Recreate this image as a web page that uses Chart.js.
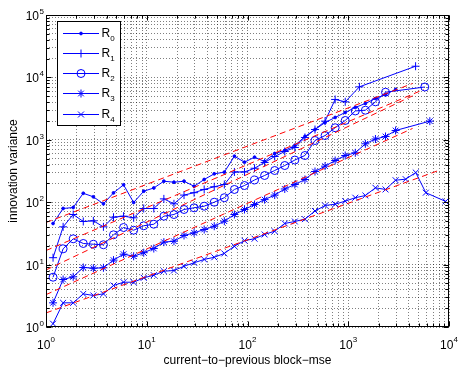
<!DOCTYPE html>
<html><head><meta charset="utf-8">
<script src="https://cdn.jsdelivr.net/npm/chart.js@4.4.0/dist/chart.umd.min.js"></script>
<style>html,body{margin:0;padding:0;background:#fff;}#wrap{width:459px;height:367px;position:relative;}</style>
</head><body><div id="wrap"><canvas id="c" width="459" height="367"></canvas></div>
<script>
// ---------- data ----------
const binX = [1.175,1.479,1.862,2.344,2.951,3.715,4.677,5.888,7.413,9.333,11.75,14.79,18.62,23.44,29.51,37.15,46.77,58.88,74.13,93.33,117.5,147.9,186.2,234.4,295.1,371.5,467.7,588.8,741.3,933.3,1175,1479,1862,2344,2951,3715,4677,5888,7413,9333];

const r0X = binX.slice(0,35);
const r0Y = [45.6,79.3,82.2,139,122,94.2,141,190,98.9,150,169,217,209,217,180,231,285,303,546,438,526,449,603,674,811,1130,1460,1890,2280,2740,3300,3820,4590,5320,6400];

const r1X = binX.slice(0,30).concat([1290,4660]);
const r1Y = [12.9,40.3,63.5,49.1,50.3,40.3,57.5,59.7,56.2,79.3,79.3,113,94.2,130,142,160,177,192,305,305,350,433,540,649,753,1090,1460,1990,4430,4060,7060,15100];

const r2X = binX.slice(0,34).concat([5750]);
const r2Y = [6.28,17.9,25.9,21.8,21.2,20.8,30.0,39.3,35.6,41.9,44.4,59.7,63.5,76.4,81.3,86.3,100,118,160,185,227,268,322,387,474,560,975,1170,1560,2040,2900,2980,4060,5790,7020];

const r3X = binX.slice(0,35).concat([6450]);
const r3Y = [2.44,5.77,6.37,8.99,8.75,8.89,11.8,14.7,13.6,15.5,18.1,22.9,23.7,29.3,32.3,36.5,41.2,49.6,63.5,76.4,91.9,110,130,163,192,231,310,378,466,560,619,863,1030,1130,1410,1990];

const r4X = binX.slice(0,38).concat([9250]);
const r4Y = [1.13,2.44,2.44,3.40,3.20,3.40,4.62,5.22,5.22,6.14,6.76,7.84,8.04,9.42,10.7,12.1,13.1,15.1,19.7,24.2,26.0,30.4,34.3,45.6,49.1,53.5,72.3,88.5,92.9,104,118,128,170,160,225,234,299,142,103];

// red dashed power-law fits (start/end points)
const fitXStart = [1,1,1,1,1];
const fitXEnd   = [4350,5600,4350,4350,7880];
const fitYStart = [47.3,16.8,8.2,3.3,1.68];
const fitYEnd   = [7980,6400,5060,1520,322];

const seriesBase = 'R';
const seriesSub = ['0','1','2','3','4'];
const xMajor = [1,10,100,1000,10000];
const xMajorExp = ['0','1','2','3','4'];
const yMajor = [1,10,100,1000,10000,100000];
const yMajorExp = ['0','1','2','3','4','5'];
const xTitle = 'current\u2212to\u2212previous block\u2212mse';
const yTitle = 'innovation variance';

// ---------- styling ----------
const BLUE = '#0000ff', RED = '#ff0000';
const FONT = '"Liberation Sans", Arial, Helvetica, sans-serif';
const markers = [
  {pointStyle:'circle', radius:1.4, bg:BLUE},
  {pointStyle:'cross', radius:4, bg:'rgba(0,0,0,0)'},
  {pointStyle:'circle', radius:4, bg:'rgba(0,0,0,0)'},
  {pointStyle:'star', radius:4, bg:'rgba(0,0,0,0)'},
  {pointStyle:'crossRot', radius:4.2, bg:'rgba(0,0,0,0)'}
];
const allX = [r0X,r1X,r2X,r3X,r4X];
const allY = [r0Y,r1Y,r2Y,r3Y,r4Y];

function pts(xs, ys){ return ys.map((v,i)=>({x:xs[i], y:v})); }
function minorTicks(majors){
  const out=[];
  majors.forEach((m,i)=>{ if(i<majors.length-1){ for(let k=1;k<=9;k++) out.push(m*k); } else out.push(m); });
  return out;
}

const datasets = [];
for(let i=0;i<5;i++){
  datasets.push({
    label: seriesBase+seriesSub[i],
    data: pts(allX[i], allY[i]),
    showLine:true, borderColor:BLUE, borderWidth:1,
    pointStyle:markers[i].pointStyle, pointRadius:markers[i].radius, pointHoverRadius:markers[i].radius,
    pointBorderColor:BLUE, pointBackgroundColor:markers[i].bg, pointBorderWidth:1,
    order:1
  });
}
for(let i=0;i<5;i++){
  datasets.push({
    label:'fit'+i,
    data:[{x:fitXStart[i],y:fitYStart[i]},{x:fitXEnd[i],y:fitYEnd[i]}],
    showLine:true, borderColor:RED, borderWidth:1, borderDash:[6,4],
    pointRadius:0, pointHoverRadius:0, order:0
  });
}

const decorPlugin = {
  id:'decor',
  afterDatasetsDraw(chart){
    const {ctx, chartArea:a, scales:{x,y}} = chart;
    ctx.save();
    ctx.strokeStyle='#000'; ctx.lineWidth=1;
    const L=Math.round(a.left)+0.5, R=Math.round(a.right)-0.5, T=Math.round(a.top)+0.5, B=Math.round(a.bottom)-0.5;
    ctx.strokeRect(L,T,R-L,B-T);
    ctx.beginPath();
    const xm = minorTicks(xMajor);
    xm.forEach(v=>{
      const len = xMajor.includes(v)?5:3;
      const px = Math.round(x.getPixelForValue(v))+0.5;
      ctx.moveTo(px,B); ctx.lineTo(px,B-len);
      ctx.moveTo(px,T); ctx.lineTo(px,T+len);
    });
    const ym = minorTicks(yMajor);
    ym.forEach(v=>{
      const len = yMajor.includes(v)?5:3;
      const py = Math.round(y.getPixelForValue(v))+0.5;
      ctx.moveTo(L,py); ctx.lineTo(L+len,py);
      ctx.moveTo(R,py); ctx.lineTo(R-len,py);
    });
    ctx.stroke();

    // tick labels
    ctx.fillStyle='#000';
    ctx.textBaseline='alphabetic';
    yMajor.forEach((v,i)=>{
      const py = y.getPixelForValue(v);
      ctx.font='12px '+FONT; ctx.textAlign='right';
      ctx.fillText('10', 39, py+5);
      ctx.font='8px '+FONT; ctx.textAlign='left';
      ctx.fillText(yMajorExp[i], 39.5, py-1);
    });
    xMajor.forEach((v,i)=>{
      const px = x.getPixelForValue(v);
      ctx.font='12px '+FONT; const w1 = ctx.measureText('10').width;
      ctx.font='8px '+FONT; const w2 = ctx.measureText(xMajorExp[i]).width;
      const s = px-(w1+w2)/2;
      ctx.font='12px '+FONT; ctx.textAlign='left';
      ctx.fillText('10', s, 349);
      ctx.font='8px '+FONT;
      ctx.fillText(xMajorExp[i], s+w1, 342);
    });
    // axis titles
    ctx.font='12px '+FONT; ctx.textAlign='center';
    ctx.fillText(xTitle, (a.left+a.right)/2, 364);
    ctx.save();
    ctx.translate(17,(a.top+a.bottom)/2);
    ctx.rotate(-Math.PI/2);
    ctx.fillText(yTitle,0,0);
    ctx.restore();

    // legend
    const bx=57.5, by=21.5, bw=63, bh=104;
    ctx.fillStyle='#fff'; ctx.fillRect(bx,by,bw,bh);
    ctx.strokeStyle='#000'; ctx.strokeRect(bx,by,bw,bh);
    for(let i=0;i<5;i++){
      const ry = Math.round(32.5+20.25*i)+0.5;
      ctx.strokeStyle=BLUE; ctx.lineWidth=1;
      ctx.beginPath(); ctx.moveTo(63,ry); ctx.lineTo(99,ry); ctx.stroke();
      ctx.fillStyle=markers[i].bg; ctx.strokeStyle=BLUE;
      Chart.helpers.drawPoint(ctx,{pointStyle:markers[i].pointStyle, radius:markers[i].radius, borderWidth:1, rotation:0}, 81, ry);
      ctx.fillStyle='#000';
      ctx.font='12px '+FONT; ctx.textAlign='left';
      ctx.fillText(seriesBase, 101.5, ry+3);
      const wR = ctx.measureText(seriesBase).width;
      ctx.font='8px '+FONT;
      ctx.fillText(seriesSub[i], 101.5+wR, ry+7.5);
    }
    ctx.restore();
  }
};

const gridCommon = {color:'rgba(0,0,0,0.5)', lineWidth:1, drawTicks:false};
new Chart(document.getElementById('c'), {
  type:'scatter',
  data:{datasets},
  options:{
    responsive:false, animation:false, devicePixelRatio:1, events:[],
    layout:{padding:{left:0,right:10,top:15,bottom:0}},
    plugins:{legend:{display:false}, tooltip:{enabled:false}},
    scales:{
      x:{type:'logarithmic', min:1, max:10000, position:'bottom',
         afterBuildTicks:s=>{ s.ticks = minorTicks(xMajor).map(v=>({value:v})); },
         afterFit:s=>{ s.height = 40; },
         ticks:{display:false}, grid:gridCommon, border:{display:false, dash:[1,2]}},
      y:{type:'logarithmic', min:1, max:100000, position:'left',
         afterBuildTicks:s=>{ s.ticks = minorTicks(yMajor).map(v=>({value:v})); },
         afterFit:s=>{ s.width = 46; },
         ticks:{display:false}, grid:gridCommon, border:{display:false, dash:[1,2]}}
    }
  },
  plugins:[decorPlugin]
});
</script></body></html>
